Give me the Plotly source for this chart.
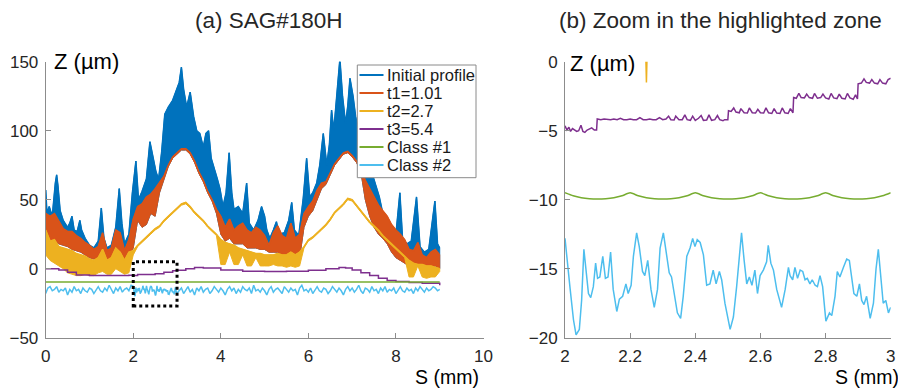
import numpy as np
import plotly.graph_objects as go

# ---------------- data ----------------
# Initial profile: upper envelope (S in mm, Z in um)
init_s = [0.00, 0.03, 0.08, 0.15, 0.22, 0.25, 0.28, 0.33, 0.40, 0.50, 0.55, 0.60, 0.65, 0.72,
          0.78, 0.82, 0.90, 1.00, 1.10, 1.20, 1.27, 1.33, 1.40, 1.50, 1.60, 1.68, 1.74, 1.80,
          1.90, 1.98, 2.06, 2.12, 2.20, 2.30, 2.38, 2.45, 2.52, 2.58, 2.65, 2.72, 2.80, 2.90,
          3.00, 3.05, 3.10, 3.15, 3.22, 3.30, 3.38, 3.45, 3.52, 3.60, 3.66, 3.72, 3.78, 3.85,
          3.92, 3.98, 4.05, 4.12, 4.19, 4.25, 4.30, 4.40, 4.50, 4.59, 4.65, 4.75, 4.85, 4.93,
          5.00, 5.05, 5.12, 5.20, 5.27, 5.33, 5.45, 5.55, 5.62, 5.68, 5.78, 5.88, 5.96, 6.03,
          6.10, 6.19, 6.26, 6.34, 6.42, 6.48, 6.53, 6.58, 6.65, 6.72, 6.78, 6.85, 6.90, 6.95,
          7.02, 7.08, 7.15, 7.25, 7.35, 7.45, 7.55, 7.62, 7.70, 7.80, 7.90, 8.00, 8.09, 8.15,
          8.25, 8.35, 8.47, 8.55, 8.65, 8.75, 8.89, 8.95, 9.00]
init_top = [57, 40, 45, 38, 62, 68, 60, 42, 35, 30, 33, 38, 28, 27,
            35, 28, 22, 17, 15, 20, 44, 22, 15, 17, 30, 58, 33, 18,
            25, 55, 78, 50, 56, 65, 92, 80, 70, 65, 85, 112, 117, 122,
            130, 135, 146, 130, 117, 128, 110, 100, 98, 88, 98, 100, 80, 73,
            65, 58, 45, 55, 84, 55, 43, 45, 40, 62, 33, 28, 35, 45,
            38, 28, 22, 28, 34, 25, 26, 35, 48, 28, 24, 50, 80, 52,
            55, 62, 75, 98, 75, 90, 115, 100, 130, 152, 125, 105, 118, 138,
            125, 110, 100, 95, 80, 70, 60, 52, 40, 35, 30, 25, 55, 22,
            18, 20, 52, 16, 12, 14, 49, 18, 15]

# t1 / t2: upper and lower envelopes on a 0.1 mm grid from 0 to 9 mm
t1_top = [40, 38, 40, 34, 29, 27, 27, 24, 22, 19, 17, 14, 16, 26, 13, 15, 28, 26, 13, 21,
          36, 45, 47, 52, 54, 58, 63, 67, 75, 81, 84, 87, 87, 84, 78, 70, 64, 56, 50, 43,
          38, 30, 36, 28, 31, 33, 28, 26, 30, 28, 24, 17, 26, 31, 24, 22, 33, 22, 25, 40,
          45, 49, 57, 62, 63, 69, 76, 80, 84, 85, 82, 78, 72, 64, 58, 52, 46, 42, 38, 32,
          28, 25, 21, 14, 13, 19, 10, 8, 12, 14, 10]
t1_bot = [22, 20, 20, 18, 17, 16, 14, 13, 12, 10, 8, 7, 8, 12, 4, 4, 10, 10, 4, 10,
          15, 35, 30, 32, 40, 38, 55, 65, 74, 80, 83, 86, 86, 83, 77, 69, 63, 55, 49, 40,
          25, 20, 22, 18, 18, 18, 15, 15, 15, 14, 14, 12, 12, 12, 10, 6, 5, 4, 8, 30,
          38, 42, 50, 58, 61, 68, 75, 79, 83, 84, 81, 77, 70, 50, 38, 30, 25, 22, 18, 12,
          8, 6, 4, 2, 2, 2, 2, 0, 0, 2, 0]
t2_top = [28, 20, 21, 16, 15, 14, 13, 11, 10, 9, 7, 6, 8, 14, 6, 8, 15, 12, 6, 12,
          13, 17, 20, 23, 26, 29, 31, 35, 38, 41, 44, 47, 48, 45, 41, 38, 35, 31, 28, 25,
          21, 19, 18, 17, 15, 14, 13, 12, 11, 11, 10, 10, 10, 11, 10, 10, 12, 10, 12, 16,
          21, 23, 26, 29, 32, 36, 41, 44, 47, 51, 50, 46, 42, 38, 34, 31, 28, 24, 21, 18,
          15, 12, 9, 6, 4, 3, 3, 2, 2, 1, 0]
t2_bot = [10, 6, 4, 2, 0, -3, -4, -5, -5, -4, -5, -5, -3, -2, -4, -4, 0, -2, -4, -3,
          10, 16, 19, 22, 25, 28, 30, 34, 37, 40, 43, 46, 47, 44, 40, 37, 34, 30, 27, 24,
          3, 3, 12, 3, 3, 10, 2, 2, 8, 2, 2, 2, 3, 2, 2, 1, 2, 1, 2, 15,
          20, 22, 25, 28, 31, 35, 40, 43, 46, 50, 49, 45, 41, 37, 33, 30, 27, 23, 20, 17,
          14, 11, 8, -6, -6, 2, -6, -7, -6, -6, -2]

# t3 (left panel)
t3_s = [0.0, 0.3, 0.5, 0.7, 1.0, 1.5, 1.9, 2.0, 2.1, 2.5, 2.7, 2.9, 3.0, 3.2, 3.4, 3.6,
        4.0, 4.5, 5.0, 5.5, 6.0, 6.4, 6.7, 6.85, 7.0, 7.2, 7.4, 7.6, 7.8, 8.0, 8.3, 8.6, 9.0]
t3_z = [0, -1, -2.5, -4.5, -5, -5, -4.8, -4.9, -4.2, -3.6, -2.6, -1.5, -1.2, 0, 0.8, 0.5,
        -1, -1.8, -2, -1.8, -1.2, 0, 0.8, 0.5, -1, -3, -5, -7, -8.5, -9.2, -10, -10.6, -12]

# Class #1 (left panel)
c1_s = [0.0, 9.0]
c1_z = [-9.6, -9.6]

# Class #2 (left panel, outside the zoomed zone), 0.05 mm steps
c2_left_a = [-18, -14, -13, -16, -15, -13, -17, -15, -16, -14, -19, -15, -17, -13, -16, -15,
             -18, -14, -16, -17, -14, -15, -18, -15, -13, -16, -17, -14, -16, -12, -15, -18,
             -14, -16, -13, -17, -15, -14, -16, -12]
c2_left_b = [-16, -14, -18, -15, -13, -17, -15, -19, -14, -16,
             -13, -17, -15, -14, -18, -16, -13, -15, -17, -14,
             -16, -19, -15, -13, -16, -14, -18, -15, -17, -13,
             -15, -16, -14, -18, -12, -16, -15, -17, -14, -16,
             -19, -15, -13, -17, -15, -14, -16, -18, -13, -15,
             -17, -14, -16, -15, -19, -14, -12, -16, -15, -17,
             -14, -18, -15, -13, -16, -17, -14, -15, -18, -16,
             -13, -15, -17, -14, -16, -19, -15, -13, -16, -14,
             -17, -15, -12, -16, -18, -14, -15, -17, -13, -16,
             -15, -18, -14, -16, -13, -17, -15, -16, -14, -18,
             -15, -13, -16, -17, -14, -16, -15, -18, -14, -16,
             -13, -15, -17, -14, -16, -15, -13, -14, -16, -15]

# Zoomed zone (2..3 mm)
zc2_s = [2.000, 2.005, 2.015, 2.026, 2.034, 2.044, 2.051, 2.058, 2.064, 2.072, 2.079, 2.087,
         2.094, 2.100, 2.107, 2.116, 2.124, 2.132, 2.140, 2.148, 2.159, 2.167, 2.177, 2.187,
         2.194, 2.203, 2.210, 2.220, 2.228, 2.238, 2.245, 2.254, 2.264, 2.274, 2.284, 2.292,
         2.302, 2.312, 2.320, 2.327, 2.335, 2.345, 2.355, 2.363, 2.374, 2.384, 2.392, 2.399,
         2.406, 2.415, 2.425, 2.435, 2.445, 2.455, 2.464, 2.474, 2.481, 2.491, 2.507, 2.517,
         2.527, 2.535, 2.542, 2.550, 2.558, 2.566, 2.574, 2.583, 2.591, 2.599, 2.609, 2.619,
         2.624, 2.632, 2.640, 2.650, 2.665, 2.676, 2.686, 2.691, 2.699, 2.706, 2.714, 2.722,
         2.730, 2.737, 2.744, 2.752, 2.759, 2.768, 2.775, 2.783, 2.791, 2.801, 2.812, 2.819,
         2.829, 2.836, 2.844, 2.855, 2.865, 2.873, 2.880, 2.887, 2.896, 2.904, 2.911, 2.918,
         2.926, 2.937, 2.947, 2.955, 2.962, 2.969, 2.977, 2.985, 2.993, 3.000]
zc2_z = [-12.8, -14.1, -16.3, -18.7, -19.8, -19.4, -17.3, -13.6, -14.9, -16.8, -17.1, -16.3,
         -14.6, -15.7, -15.6, -14.1, -15.7, -15.6, -13.8, -16.5, -18.1, -17.2, -17.0, -16.1,
         -16.8, -16.2, -14.1, -12.4, -13.4, -15.2, -15.5, -14.4, -16.5, -17.8, -16.5, -13.5,
         -12.4, -14.1, -15.3, -15.6, -16.7, -18.2, -18.6, -17.0, -14.1, -13.5, -12.8, -13.4,
         -12.9, -13.1, -14.0, -16.2, -16.1, -15.1, -16.1, -15.2, -15.8, -17.5, -19.4, -18.5,
         -16.3, -14.1, -12.4, -14.4, -16.1, -15.6, -16.2, -15.1, -16.8, -15.5, -15.1, -14.5,
         -13.3, -14.6, -15.1, -16.5, -17.8, -16.5, -14.9, -15.5, -15.8, -14.9, -15.7, -15.1,
         -15.2, -15.8, -15.7, -16.1, -15.8, -16.2, -16.3, -15.5, -16.3, -18.8, -18.2, -18.4,
         -17.0, -15.2, -15.6, -14.9, -14.3, -14.4, -15.7, -16.8, -17.0, -16.1, -17.3, -17.6,
         -17.0, -18.6, -17.5, -15.0, -13.6, -15.3, -17.5, -17.3, -18.2, -17.8]

zc1_z = [-9.50, -9.72, -9.86, -9.93, -9.95, -9.93, -9.86, -9.72,
         -9.50, -9.72, -9.86, -9.93, -9.95, -9.93, -9.86, -9.72,
         -9.50, -9.72, -9.86, -9.93, -9.95, -9.93, -9.86, -9.72,
         -9.50, -9.72, -9.86, -9.93, -9.95, -9.93, -9.86, -9.72,
         -9.50, -9.72, -9.86, -9.93, -9.95, -9.93, -9.86, -9.72, -9.50]

zt3_s = [2.000, 2.006, 2.012, 2.017, 2.023, 2.030, 2.036, 2.042, 2.049, 2.055, 2.061, 2.068,
         2.075, 2.082, 2.090, 2.097, 2.099, 2.110, 2.120, 2.130, 2.140, 2.150, 2.160, 2.170,
         2.180, 2.190, 2.200, 2.210, 2.220, 2.230, 2.240, 2.250, 2.260, 2.270, 2.280, 2.290,
         2.300, 2.310, 2.318, 2.325, 2.335, 2.340, 2.350, 2.360, 2.368, 2.375, 2.385, 2.392,
         2.400, 2.410, 2.418, 2.425, 2.435, 2.442, 2.450, 2.460, 2.468, 2.475, 2.485, 2.490,
         2.500, 2.502, 2.510, 2.518, 2.525, 2.535, 2.540, 2.550, 2.560, 2.566, 2.575, 2.585,
         2.592, 2.600, 2.610, 2.617, 2.625, 2.635, 2.642, 2.650, 2.660, 2.667, 2.675, 2.685,
         2.692, 2.700, 2.702, 2.710, 2.718, 2.725, 2.735, 2.742, 2.750, 2.760, 2.766, 2.775,
         2.785, 2.792, 2.800, 2.810, 2.817, 2.825, 2.835, 2.842, 2.850, 2.860, 2.867, 2.875,
         2.885, 2.892, 2.898, 2.900, 2.910, 2.918, 2.925, 2.935, 2.942, 2.950, 2.960, 2.967,
         2.975, 2.985, 2.992, 3.000]
zt3_z = [-4.65, -4.95, -4.75, -5.05, -4.85, -4.95, -5.05, -5.00, -4.60, -5.05, -5.12, -4.95,
         -4.90, -4.80, -4.95, -4.95, -4.15, -4.20, -4.15, -4.20, -4.20, -4.15, -4.20, -4.10,
         -4.20, -4.20, -4.15, -4.20, -4.20, -4.05, -4.20, -4.20, -4.15, -4.20, -4.20, -4.05,
         -4.20, -4.15, -3.95, -4.20, -4.22, -3.95, -4.20, -4.20, -3.85, -4.20, -4.25, -3.95,
         -4.25, -4.10, -3.90, -4.25, -4.22, -3.85, -4.25, -4.20, -3.90, -4.20, -4.28, -4.20,
         -4.20, -3.55, -3.60, -3.35, -3.65, -3.70, -3.40, -3.70, -3.72, -3.35, -3.70, -3.72,
         -3.45, -3.70, -3.72, -3.35, -3.70, -3.75, -3.40, -3.72, -3.75, -3.35, -3.70, -3.75,
         -3.40, -3.70, -2.60, -2.65, -2.30, -2.60, -2.62, -2.35, -2.60, -2.65, -2.30, -2.65,
         -2.60, -2.35, -2.62, -2.70, -2.30, -2.62, -2.68, -2.35, -2.65, -2.70, -2.30, -2.62,
         -2.72, -2.40, -2.70, -1.60, -1.55, -1.25, -1.50, -1.55, -1.30, -1.55, -1.60, -1.30,
         -1.55, -1.60, -1.30, -1.20]

zt2_s = [2.248, 2.250, 2.252]
zt2_z = [0.5, -1.5, 0.5]

zone_box_s = [2.0, 3.0]
zone_box_z = [-27, 5]

series_names = ["Initial profile", "t1=1.01", "t2=2.7", "t3=5.4", "Class #1", "Class #2"]

# ---------------- styling ----------------
C_BLUE = "#0072BD"
C_ORANGE = "#D95319"
C_YELLOW = "#EDB120"
C_PURPLE = "#7E2F8E"
C_GREEN = "#77AC30"
C_CYAN = "#4DBEEE"
series_colors = [C_BLUE, C_ORANGE, C_YELLOW, C_PURPLE, C_GREEN, C_CYAN]
FONT = "Arial, Liberation Sans, Helvetica, sans-serif"
AX = "#8c8c8c"
TXT = "#262626"

grid = list(np.round(np.linspace(0, 9, 91), 2))
c2_s_a = list(np.round(np.arange(0, 40) * 0.05, 3))
c2_s_b = list(np.round(3.05 + np.arange(0, 120) * 0.05, 3))
zc1_s = list(np.round(2 + np.arange(0, 41) * 0.025, 3))

fig = go.Figure()

# Initial profile band (visible above t1)
fig.add_trace(go.Scatter(x=init_s + grid[::-1], y=init_top + t1_bot[::-1], fill="toself",
                         fillcolor=C_BLUE, line=dict(color=C_BLUE, width=1), mode="lines",
                         hoverinfo="skip", xaxis="x", yaxis="y"))
fig.add_trace(go.Scatter(x=init_s, y=init_top, mode="lines", name=series_names[0],
                         line=dict(color=C_BLUE, width=1.5), xaxis="x", yaxis="y"))
# t1
fig.add_trace(go.Scatter(x=grid + grid[::-1], y=t1_top + t1_bot[::-1], fill="toself",
                         fillcolor=C_ORANGE, line=dict(color=C_ORANGE, width=1), mode="lines",
                         hoverinfo="skip", xaxis="x", yaxis="y"))
fig.add_trace(go.Scatter(x=grid, y=t1_top, mode="lines", name=series_names[1],
                         line=dict(color=C_ORANGE, width=1.5), xaxis="x", yaxis="y"))
# t2
fig.add_trace(go.Scatter(x=grid + grid[::-1], y=t2_top + t2_bot[::-1], fill="toself",
                         fillcolor=C_YELLOW, line=dict(color=C_YELLOW, width=1), mode="lines",
                         hoverinfo="skip", xaxis="x", yaxis="y"))
fig.add_trace(go.Scatter(x=grid, y=t2_top, mode="lines", name=series_names[2],
                         line=dict(color=C_YELLOW, width=1.5), xaxis="x", yaxis="y"))
# t3, classes
fig.add_trace(go.Scatter(x=t3_s, y=t3_z, mode="lines", name=series_names[3],
                         line=dict(color=C_PURPLE, width=1.5, shape="hv"), xaxis="x", yaxis="y"))
fig.add_trace(go.Scatter(x=c1_s, y=c1_z, mode="lines", name=series_names[4],
                         line=dict(color=C_GREEN, width=1.5), xaxis="x", yaxis="y"))
fig.add_trace(go.Scatter(x=c2_s_a + zc2_s + c2_s_b, y=c2_left_a + zc2_z + c2_left_b,
                         mode="lines", name=series_names[5],
                         line=dict(color=C_CYAN, width=1.5), xaxis="x", yaxis="y"))

# Right panel
fig.add_trace(go.Scatter(x=zt2_s, y=zt2_z, mode="lines", name=series_names[2],
                         line=dict(color=C_YELLOW, width=1.5), xaxis="x2", yaxis="y2"))
fig.add_trace(go.Scatter(x=zt3_s, y=zt3_z, mode="lines", name=series_names[3],
                         line=dict(color=C_PURPLE, width=1.5), xaxis="x2", yaxis="y2"))
fig.add_trace(go.Scatter(x=zc1_s, y=zc1_z, mode="lines", name=series_names[4],
                         line=dict(color=C_GREEN, width=1.5, shape="spline", smoothing=0.6),
                         xaxis="x2", yaxis="y2"))
fig.add_trace(go.Scatter(x=zc2_s, y=zc2_z, mode="lines", name=series_names[5],
                         line=dict(color=C_CYAN, width=1.5), xaxis="x2", yaxis="y2"))

# highlighted zone
fig.add_shape(type="rect", xref="x", yref="y", x0=zone_box_s[0], x1=zone_box_s[1],
              y0=zone_box_z[0], y1=zone_box_z[1], line=dict(color="black", width=3, dash="dot"))

# The page body has an 8 px margin: figure occupies window pixels 8..906 / 8..389
OFF = 8
W, H = 906 - OFF, 389 - OFF


def px(xp):
    return (xp - OFF) / W


def py(yp):
    return (389 - yp) / H


# MATLAB-style legend box (compact rows)
fig.add_shape(type="rect", xref="paper", yref="paper", x0=px(357.3), x1=px(476),
              y0=py(177.7), y1=py(65), line=dict(color="#8a8a8a", width=1),
              fillcolor="white", layer="above")
for i, (nm, col) in enumerate(zip(series_names, series_colors)):
    yy = 75 + 18 * i
    fig.add_shape(type="line", xref="paper", yref="paper", x0=px(359.5), x1=px(383.5),
                  y0=py(yy), y1=py(yy), line=dict(color=col, width=2), layer="above")
    fig.add_annotation(text=nm, xref="paper", yref="paper", x=px(384.5), y=py(yy),
                       xanchor="left", yanchor="middle", showarrow=False,
                       font=dict(family=FONT, size=16.5, color="#1a1a1a"))

axcommon = dict(showline=True, linecolor=AX, linewidth=1, showgrid=False, zeroline=False,
                ticks="inside", ticklen=5, tickcolor=AX, mirror=False, automargin=False,
                tickfont=dict(family=FONT, size=17, color=TXT))
fig.update_layout(
    width=W, height=H, margin=dict(l=0, r=0, t=0, b=0, autoexpand=False),
    paper_bgcolor="white", plot_bgcolor="white", showlegend=False,
    xaxis=dict(domain=[px(45.7), px(483.5)], range=[0, 10], tickvals=[0, 2, 4, 6, 8, 10],
               anchor="y", ticklabelstandoff=3, **axcommon),
    yaxis=dict(domain=[py(337.7), py(61.7)], range=[-50, 150],
               tickvals=[-50, 0, 50, 100, 150], anchor="x", ticklabelstandoff=3, **axcommon),
    xaxis2=dict(domain=[px(565), px(890.7)], range=[2, 3],
                tickvals=[2, 2.2, 2.4, 2.6, 2.8, 3], ticktext=["2", "2.2", "2.4", "2.6", "2.8", "3"],
                anchor="y2", ticklabelstandoff=3, **axcommon),
    yaxis2=dict(domain=[py(337.7), py(61.7)], range=[-20, 0],
                tickvals=[-20, -15, -10, -5, 0], anchor="x2", ticklabelstandoff=3, **axcommon),
)

ann = dict(xref="paper", yref="paper", showarrow=False)
fig.add_annotation(text="(a) SAG#180H", x=px(269), y=py(20), xanchor="center",
                   yanchor="middle", font=dict(family=FONT, size=22.5, color=TXT), **ann)
fig.add_annotation(text="(b) Zoom in the highlighted zone", x=px(720), y=py(20),
                   xanchor="center", yanchor="middle", font=dict(family=FONT, size=22.5, color=TXT), **ann)
fig.add_annotation(text="Z (µm)", x=px(52), y=py(62), xanchor="left", yanchor="middle",
                   font=dict(family=FONT, size=22, color="black"), **ann)
fig.add_annotation(text="Z (µm)", x=px(568), y=py(63), xanchor="left", yanchor="middle",
                   font=dict(family=FONT, size=22, color="black"), **ann)
fig.add_annotation(text="S (mm)", x=px(481), y=py(376.5), xanchor="right", yanchor="middle",
                   font=dict(family=FONT, size=19.5, color="black"), **ann)
fig.add_annotation(text="S (mm)", x=px(901), y=py(376.5), xanchor="right", yanchor="middle",
                   font=dict(family=FONT, size=19.5, color="black"), **ann)

fig.write_html("out.html")
